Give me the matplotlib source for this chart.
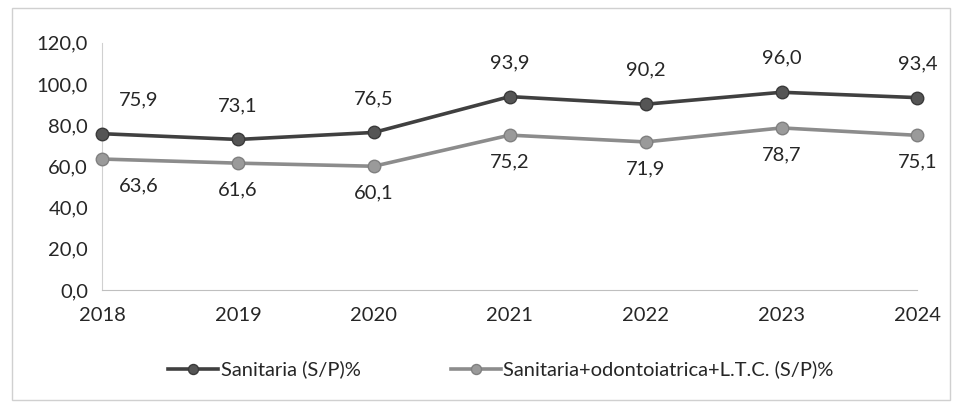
import matplotlib.pyplot as plt
from matplotlib.patches import Rectangle

# dati
anni = ['2018', '2019', '2020', '2021', '2022', '2023', '2024']
sanitaria = [75.9, 73.1, 76.5, 93.9, 90.2, 96.0, 93.4]
sanitaria_odonto_ltc = [63.6, 61.6, 60.1, 75.2, 71.9, 78.7, 75.1]
nomi = ['Sanitaria (S/P)%', 'Sanitaria+odontoiatrica+L.T.C. (S/P)%']

plt.rcParams['font.family'] = ['Lato', 'DejaVu Sans']

fig = plt.figure(figsize=(9.56, 4.04), dpi=100)
ax = fig.add_axes([0.1067, 0.282, 0.853, 0.612])

# cornice del grafico
fig.patches.append(Rectangle((0.013, 0.01), 0.981, 0.97, transform=fig.transFigure,
                             fill=False, edgecolor='#d0d0d0', linewidth=1))

x = list(range(len(anni)))
ax.plot(x, sanitaria, color='#404040', linewidth=2.6, marker='o', markersize=9,
        markerfacecolor='#555555', markeredgecolor='#3a3a3a', clip_on=False,
        label=nomi[0], zorder=3)
ax.plot(x, sanitaria_odonto_ltc, color='#8c8c8c', linewidth=2.6, marker='o', markersize=9,
        markerfacecolor='#9a9a9a', markeredgecolor='#808080', clip_on=False,
        label=nomi[1], zorder=3)

# etichette dei valori
for i, v in enumerate(sanitaria):
    dx = 37 if i == 0 else 0
    ax.annotate(f'{v:.1f}'.replace('.', ','), (i, v), xytext=(dx, 34),
                textcoords='offset pixels', ha='center', va='center',
                fontsize=14.5, color='#262626')
for i, v in enumerate(sanitaria_odonto_ltc):
    dx = 37 if i == 0 else 0
    ax.annotate(f'{v:.1f}'.replace('.', ','), (i, v), xytext=(dx, -27),
                textcoords='offset pixels', ha='center', va='center',
                fontsize=14.5, color='#262626')

ax.set_xlim(0, 6)
ax.set_ylim(0, 120)
ax.set_yticks(range(0, 121, 20))
ax.set_yticklabels([f'{t},0' for t in range(0, 121, 20)])
ax.set_xticks(x)
ax.set_xticklabels(anni)
ax.tick_params(length=0, labelsize=14.5, colors='#262626')
ax.tick_params(axis='x', pad=12)
ax.tick_params(axis='y', pad=10)

for s in ['top', 'right']:
    ax.spines[s].set_visible(False)
ax.spines['left'].set_color('#d0d0d0')
ax.spines['bottom'].set_color('#bfbfbf')

fig.legend(loc='center', bbox_to_anchor=(0.524, 0.085), ncol=2, frameon=False,
           fontsize=14.5, handlelength=2.5, columnspacing=4.5, handletextpad=0.1,
           markerscale=0.8, labelcolor='#262626')

plt.savefig('out.png', dpi=100)
